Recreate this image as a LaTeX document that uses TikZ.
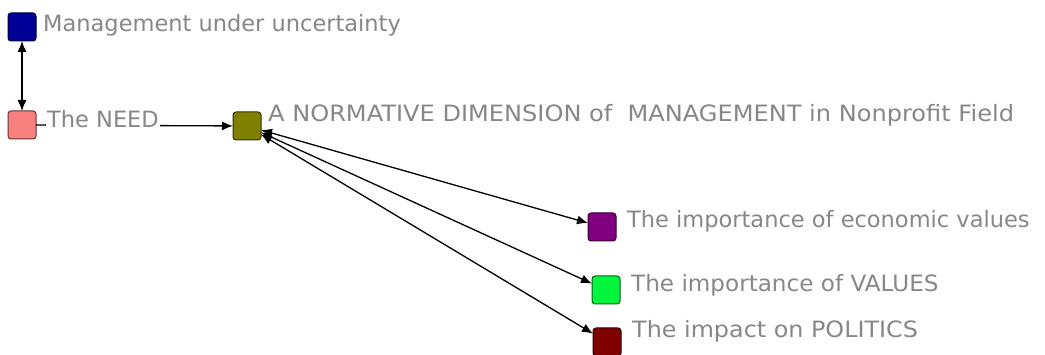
\documentclass[tikz,border=0pt]{standalone}
\usepackage{fontspec}
\setmainfont{DejaVu Sans}
\usetikzlibrary{arrows.meta}
\definecolor{cblue}{RGB}{0,0,150}
\definecolor{cpink}{RGB}{250,128,128}
\definecolor{colive}{RGB}{128,128,0}
\definecolor{cpurple}{RGB}{128,0,128}
\definecolor{cgreen}{RGB}{0,245,60}
\definecolor{cdred}{RGB}{128,0,0}
\definecolor{ctext}{RGB}{135,135,135}
\tikzset{
  box/.style={draw=#1!40!black, fill=#1, line width=1pt, rounded corners=3pt,
    minimum size=28pt, inner sep=0pt, outer sep=0pt},
  lbl/.style={anchor=base west, text=ctext, fill=white, inner sep=1pt,
    font=\fontsize{22.5pt}{24pt}\selectfont},
  link/.style={line width=1.3pt, black, -{Latex[length=11pt,width=9pt]}},
  blink/.style={line width=1.3pt, black, {Latex[length=11pt,width=9pt]}-{Latex[length=11pt,width=9pt]}}
}
\begin{document}
\begin{tikzpicture}[x=1pt,y=-1pt]
\useasboundingbox (0,0) rectangle (1045,355);
\node[box=cblue] (mu) at (22,27) {};
\node[box=cpink] (need) at (22,125) {};
\node[box=colive] (norm) at (247,126) {};
\node[box=cpurple] (econ) at (602,227) {};
\node[box=cgreen] (vals) at (606,290) {};
\node[box=cdred] (pol) at (607,342) {};
\draw[blink] (mu) -- (need);
\draw[link] (need) -- (norm);
\draw[blink] (norm) -- (econ);
\draw[blink] (norm) -- (vals);
\draw[blink] (norm) -- (pol);
\node[lbl] (lmu) at (42,32) {Management under uncertainty};
\node[lbl] (lneed) at (46,128) {The NEED};
\node[lbl] (lnorm) at (267,122) {\scalebox{1.07}[1]{A NORMATIVE DIMENSION of \ MANAGEMENT in Nonprofit Field}};
\node[lbl] (lecon) at (626,228) {The importance of economic values};
\node[lbl] (lvals) at (630,292) {\scalebox{1.027}[1]{The importance of VALUES}};
\node[lbl] (lpol) at (631,338) {\scalebox{1.06}[1]{The impact on POLITICS}};
\end{tikzpicture}
\end{document}
